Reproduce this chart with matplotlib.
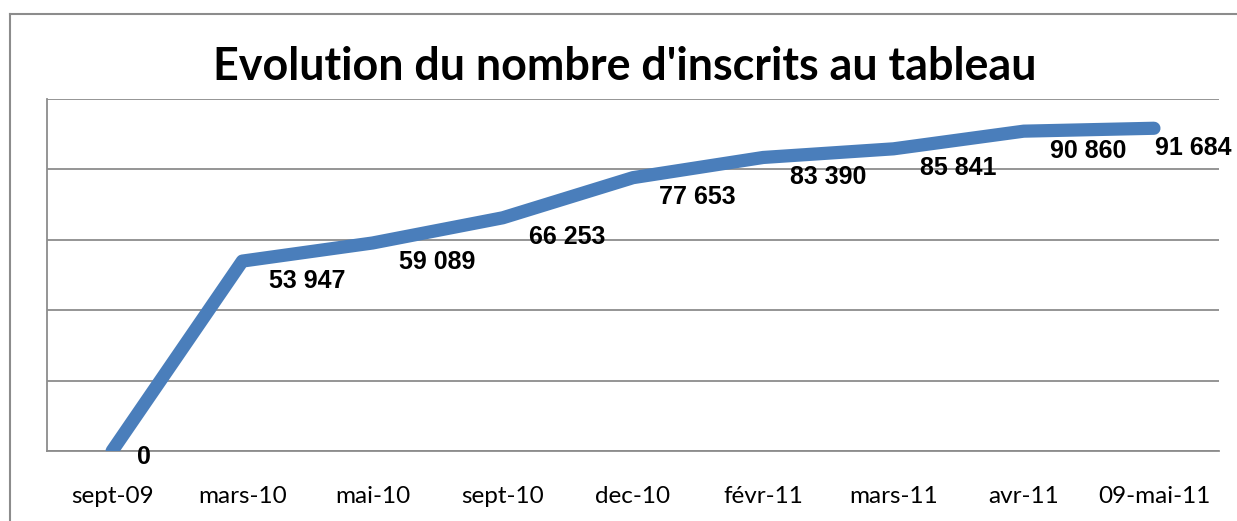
import matplotlib.pyplot as plt
from matplotlib.lines import Line2D

# data
categories = ["sept-09", "mars-10", "mai-10", "sept-10", "dec-10",
              "févr-11", "mars-11", "avr-11", "09-mai-11"]
inscrits = [0, 53947, 59089, 66253, 77653, 83390, 85841, 90860, 91684]
labels = ["0", "53 947", "59 089", "66 253", "77 653",
          "83 390", "85 841", "90 860", "91 684"]

LINE_COLOR = '#4A7EBB'
GRID_COLOR = '#8C8C8C'

fig = plt.figure(figsize=(12.37, 5.21), dpi=100)
ax = fig.add_axes([0.038, 0.1344, 0.9475, 0.6756])

x = list(range(len(categories)))
ax.plot(x, inscrits, color=LINE_COLOR, linewidth=9.5,
        solid_capstyle='round', solid_joinstyle='round', zorder=3)

# data labels, below right of each point
for i, (v, lab) in enumerate(zip(inscrits, labels)):
    if i == 0:
        off = (18, -4)
    elif i == len(inscrits) - 1:
        off = (1, -14)
    else:
        off = (19, -14)
    ax.annotate(lab, (i, v), xytext=off, textcoords='offset points',
                ha='left', va='center', fontsize=18, fontweight='bold',
                family='Liberation Sans', color='black', zorder=4,
                annotation_clip=False)

ax.set_xlim(-0.5, len(categories) - 0.5)
ax.set_ylim(0, 100000)
ax.set_yticks(range(0, 100001, 20000))
ax.set_yticklabels([])
ax.yaxis.grid(True, color=GRID_COLOR, linewidth=1.3)
ax.set_axisbelow(True)
ax.tick_params(axis='y', length=0)
ax.set_xticks(x)
ax.set_xticklabels(categories, fontsize=17.5, family='Lato')
ax.tick_params(axis='x', length=0, pad=25)

for s in ['top', 'right']:
    ax.spines[s].set_visible(False)
ax.spines['left'].set_color(GRID_COLOR)
ax.spines['left'].set_linewidth(1.3)
ax.spines['bottom'].set_color(GRID_COLOR)
ax.spines['bottom'].set_linewidth(1.3)

fig.text(0.505, 1 - 80 / 521, "Evolution du nombre d'inscrits au tableau",
         ha='center', va='baseline', fontsize=32.3, fontweight='bold', family='Lato')

# chart area border (top and left edges visible)
bx = 9.5 / 1237
by = 1 - 13.5 / 521
fig.add_artist(Line2D([bx, bx], [0, by], transform=fig.transFigure,
                      color=GRID_COLOR, linewidth=1.5))
fig.add_artist(Line2D([bx, 1], [by, by], transform=fig.transFigure,
                      color=GRID_COLOR, linewidth=1.5))

plt.savefig("out.png", dpi=100)
